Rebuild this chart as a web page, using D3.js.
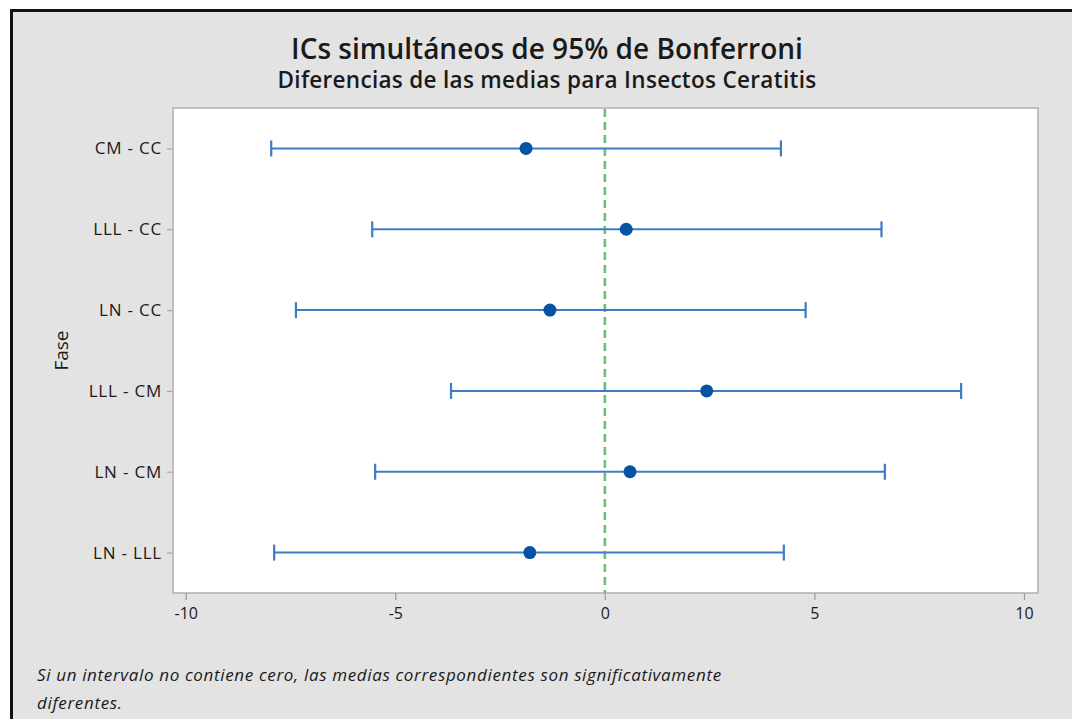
<!DOCTYPE html>
<html>
<head>
<meta charset="utf-8">
<script src="https://cdn.jsdelivr.net/npm/d3@7"></script>
<style>
  html, body { margin: 0; padding: 0; background: #ffffff; }
  svg { display: block; }
</style>
</head>
<body>
<svg id="chart" width="1072" height="719"></svg>
<script>
// Bonferroni simultaneous 95% intervals for pairwise differences of means
const comparisons = ["CM - CC", "LLL - CC", "LN - CC", "LLL - CM", "LN - CM", "LN - LLL"];
const estimates   = [-1.88, 0.51, -1.31, 2.43, 0.60, -1.79];
const lowerBounds = [-7.96, -5.55, -7.37, -3.67, -5.48, -7.89];
const upperBounds = [4.20, 6.60, 4.79, 8.50, 6.68, 4.27];
const xTicks = [-10, -5, 0, 5, 10];

const titleText = "ICs simultáneos de 95% de Bonferroni";
const subtitleText = "Diferencias de las medias para Insectos Ceratitis";
const yLabel = "Fase";
const noteLines = [
  "Si un intervalo no contiene cero, las medias correspondientes son significativamente",
  "diferentes."
];

const svg = d3.select("#chart");
const W = 1072, H = 719;
const font = "'Open Sans', 'Noto Sans', sans-serif";

// outer panel
svg.append("rect").attr("x", 11).attr("y", 10).attr("width", W - 11).attr("height", H - 10)
  .attr("fill", "#e3e3e3");
svg.append("line").attr("x1", 11).attr("x2", W).attr("y1", 10.5).attr("y2", 10.5)
  .attr("stroke", "#111").attr("stroke-width", 3);
svg.append("line").attr("x1", 11.5).attr("x2", 11.5).attr("y1", 9).attr("y2", H)
  .attr("stroke", "#111").attr("stroke-width", 3);

const plot = { left: 173, top: 108, right: 1038, bottom: 593 };

const x = d3.scaleLinear().domain([-10, 10]).range([185.7, 1024]);
const y = d3.scalePoint().domain(comparisons).range([plot.top, plot.bottom]).padding(0.5);

// plot area
svg.append("rect")
  .attr("x", plot.left).attr("y", plot.top)
  .attr("width", plot.right - plot.left).attr("height", plot.bottom - plot.top)
  .attr("fill", "#ffffff").attr("stroke", "#b4b4b4").attr("stroke-width", 1.6);

// titles
svg.append("text").attr("x", 547).attr("y", 59).attr("text-anchor", "middle")
  .attr("font-family", font).attr("font-weight", 600).attr("font-size", 28)
  .attr("fill", "#1a1a1a").text(titleText);
svg.append("text").attr("x", 547).attr("y", 88).attr("text-anchor", "middle")
  .attr("font-family", font).attr("font-weight", 600).attr("font-size", 22.5)
  .attr("letter-spacing", 0.3)
  .attr("fill", "#1a1a1a").text(subtitleText);

// x axis
const xAxis = svg.append("g").attr("transform", `translate(0,${plot.bottom})`)
  .call(d3.axisBottom(x).tickValues(xTicks).tickFormat(d => String(d))
    .tickSize(7).tickSizeOuter(0).tickPadding(8));
xAxis.select(".domain").remove();
xAxis.selectAll(".tick line").attr("stroke", "#9a9a9a").attr("stroke-width", 1.2);
xAxis.selectAll(".tick text").attr("font-family", font).attr("font-size", 16)
  .attr("fill", "#1a1a1a");

// y axis
const yAxis = svg.append("g").attr("transform", `translate(${plot.left},0)`)
  .call(d3.axisLeft(y).tickSize(6).tickSizeOuter(0).tickPadding(5));
yAxis.select(".domain").remove();
yAxis.selectAll(".tick line").attr("stroke", "#a8a8a8").attr("stroke-width", 1.2);
yAxis.selectAll(".tick text").attr("font-family", font).attr("font-size", 17)
  .attr("letter-spacing", 0.8).attr("fill", "#1a1a1a");

svg.append("text")
  .attr("transform", `translate(68,${(plot.top + plot.bottom) / 2}) rotate(-90)`)
  .attr("text-anchor", "middle")
  .attr("font-family", font).attr("font-size", 19).attr("fill", "#1a1a1a")
  .text(yLabel);

// zero reference line
svg.append("line")
  .attr("x1", x(0)).attr("x2", x(0))
  .attr("y1", plot.top + 1).attr("y2", plot.bottom)
  .attr("stroke", "#6dbf72").attr("stroke-width", 2.6)
  .attr("stroke-dasharray", "8,5");

// intervals
const rows = comparisons.map((c, i) => ({
  name: c, est: estimates[i], lo: lowerBounds[i], hi: upperBounds[i]
}));

const g = svg.append("g");
const barColor = "#3c7cc4";
g.selectAll("line.ci").data(rows).join("line").attr("class", "ci")
  .attr("x1", d => x(d.lo)).attr("x2", d => x(d.hi))
  .attr("y1", d => y(d.name)).attr("y2", d => y(d.name))
  .attr("stroke", barColor).attr("stroke-width", 2);
g.selectAll("line.capL").data(rows).join("line").attr("class", "capL")
  .attr("x1", d => x(d.lo)).attr("x2", d => x(d.lo))
  .attr("y1", d => y(d.name) - 8).attr("y2", d => y(d.name) + 8)
  .attr("stroke", barColor).attr("stroke-width", 2.2);
g.selectAll("line.capH").data(rows).join("line").attr("class", "capH")
  .attr("x1", d => x(d.hi)).attr("x2", d => x(d.hi))
  .attr("y1", d => y(d.name) - 8).attr("y2", d => y(d.name) + 8)
  .attr("stroke", barColor).attr("stroke-width", 2.2);
g.selectAll("circle").data(rows).join("circle")
  .attr("cx", d => x(d.est)).attr("cy", d => y(d.name)).attr("r", 6.5)
  .attr("fill", "#0652a3");

// footnote
svg.append("g").selectAll("text").data(noteLines).join("text")
  .attr("x", 37).attr("y", (d, i) => 681 + i * 28)
  .attr("font-family", font).attr("font-style", "italic").attr("font-size", 17)
  .attr("letter-spacing", 0.65)
  .attr("fill", "#1a1a1a").text(d => d);
</script>
</body>
</html>
